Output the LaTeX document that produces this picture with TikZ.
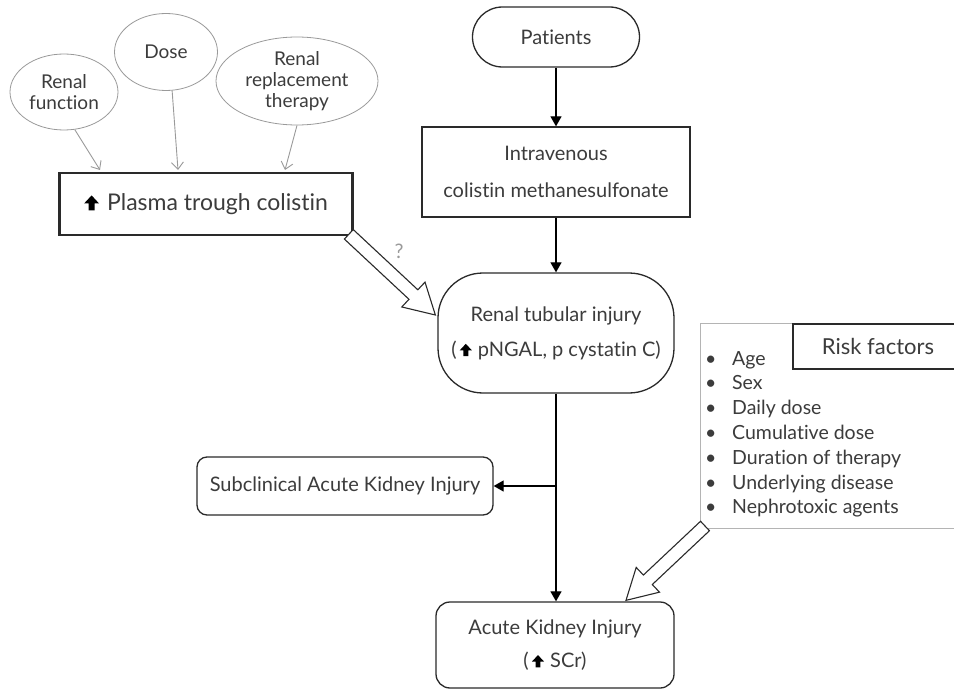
\documentclass[tikz,border=0pt]{standalone}
\usepackage{fontspec}
\setmainfont{Lato}[Ligatures=NoCommon]
\usetikzlibrary{arrows.meta,calc,shapes.geometric}
\definecolor{txt}{HTML}{3C3C3C}
\definecolor{ell}{HTML}{9A9A9A}
\definecolor{edge}{HTML}{2A2A2A}
\definecolor{light}{HTML}{B4B4B4}
\newcommand{\upa}[1][1]{\tikz[x=#1pt,y=#1pt,baseline=0pt,sharp corners]\fill[black] (-2.6,0) rectangle (2.6,6) (-6.5,6) -- (6.5,6) -- (0,13) -- cycle;}
\tikzset{
  base/.style={font=\fontsize{20}{24}\selectfont, text=txt, align=center, inner sep=0pt},
  oval/.style={base, ellipse, draw=ell, line width=0.8pt, fill=white, font=\fontsize{19}{21}\selectfont},
  box/.style={base, rectangle, draw=edge, line width=1.3pt, fill=white},
  rbox/.style={box, rounded corners=#1},
  flow/.style={draw=black, line width=1.2pt, -{Triangle[length=10pt,width=11pt]}},
  thin/.style={draw=ell, line width=0.9pt, -{Straight Barb[length=7pt,width=12pt]}},
  hollow/.style={draw=edge, line width=1.1pt, fill=white, line join=miter}
}
\begin{document}
\begin{tikzpicture}[x=1pt,y=-1pt]
\clip (0,0) rectangle (954,690);
\fill[white] (0,0) rectangle (954,690);

% ellipses
\node[oval, minimum width=108pt, minimum height=76pt] (rf) at (64,92) {Renal\\function};
\node[oval, minimum width=103pt, minimum height=77pt] (dose) at (166,52) {Dose};
\node[oval, minimum width=162pt, minimum height=88pt] (rrt) at (297,81) {Renal\\replacement\\therapy};

% plasma box
\node[box, line width=2.6pt, minimum width=293pt, minimum height=62pt, font=\fontsize{23}{26}\selectfont] (plasma) at (206,204) {\upa[1.15]\hspace{8pt}Plasma trough colistin};

\coordinate (t1) at (100,170);
\coordinate (t2) at (178,170);
\coordinate (t3) at (285,170);
\draw[thin] (rf.286) -- (t1);
\draw[thin] (dose.279) -- (t2);
\draw[thin] (rrt.270) -- (t3);

% main flow
\node[rbox=30pt, minimum width=167pt, minimum height=60pt] (pat) at (556,37) {Patients};
\node[box, minimum width=268pt, minimum height=90pt] (iv) at (556,172) {Intravenous\\[13pt]colistin methanesulfonate};
\node[rbox=45pt, minimum width=236pt, minimum height=120pt] (rti) at (556,333) {Renal tubular injury\\[11pt](\hspace{3pt}\upa[0.95]\hspace{6pt}pNGAL, p cystatin C)};
\node[rbox=10pt, minimum width=296pt, minimum height=58pt] (sub) at (345,486) {Subclinical Acute Kidney Injury};
\node[rbox=14pt, minimum width=238pt, minimum height=86pt] (aki) at (555,645) {Acute Kidney Injury\\[9pt](\hspace{3pt}\upa[0.95]\hspace{6pt}SCr)};

\draw[flow] (pat) -- (iv);
\draw[flow] (iv.south) -- (iv.south |- rti.north);
\draw[flow] (rti.south) -- (rti.south |- aki.north);
\coordinate (br) at (rti.south |- sub.east);
\draw[flow] (br) -- (sub.east);

% risk factors
\node[base, draw=light, line width=1pt, fill=white, minimum width=270pt, minimum height=205pt, anchor=north west] (risk) at (700,323) {};
\node[base, draw=edge, line width=2pt, fill=white, minimum width=170pt, minimum height=45pt, anchor=north west, font=\fontsize{22}{24}\selectfont] (rtitle) at (792,323) {Risk factors};
\node[base, anchor=north west, align=left, font=\fontsize{19.5}{24.8}\selectfont] (list) at (705,351) {%
\makebox[27pt][l]{\textbullet}Age\\
\makebox[27pt][l]{\textbullet}Sex\\
\makebox[27pt][l]{\textbullet}Daily dose\\
\makebox[27pt][l]{\textbullet}Cumulative dose\\
\makebox[27pt][l]{\textbullet}Duration of therapy\\
\makebox[27pt][l]{\textbullet}Underlying disease\\
\makebox[27pt][l]{\textbullet}Nephrotoxic agents};

% hollow arrows
\coordinate (a1) at ($(plasma.south east)+(-5,-2)$);
\coordinate (b1) at ($(rti.west)+(-2,-18)$);
\coordinate (h1) at ($(b1)!30pt!(a1)$);
\draw[hollow] ($(a1)!6.5pt!90:(b1)$) -- ($(h1)!6.5pt!-90:(a1)$) -- ($(h1)!17pt!-90:(a1)$) -- (b1) -- ($(h1)!17pt!90:(a1)$) -- ($(h1)!6.5pt!90:(a1)$) -- ($(a1)!6.5pt!-90:(b1)$) -- cycle;
\node[base, text=ell, font=\fontsize{20}{20}\selectfont] (q) at (399,251) {?};

\coordinate (a2) at ($(risk.south west)+(5,-3)$);
\coordinate (b2) at ($(aki.north)+(71,-1)$);
\coordinate (h2) at ($(b2)!30pt!(a2)$);
\draw[hollow] ($(a2)!6.5pt!90:(b2)$) -- ($(h2)!6.5pt!-90:(a2)$) -- ($(h2)!17pt!-90:(a2)$) -- (b2) -- ($(h2)!17pt!90:(a2)$) -- ($(h2)!6.5pt!90:(a2)$) -- ($(a2)!6.5pt!-90:(b2)$) -- cycle;
\end{tikzpicture}
\end{document}
